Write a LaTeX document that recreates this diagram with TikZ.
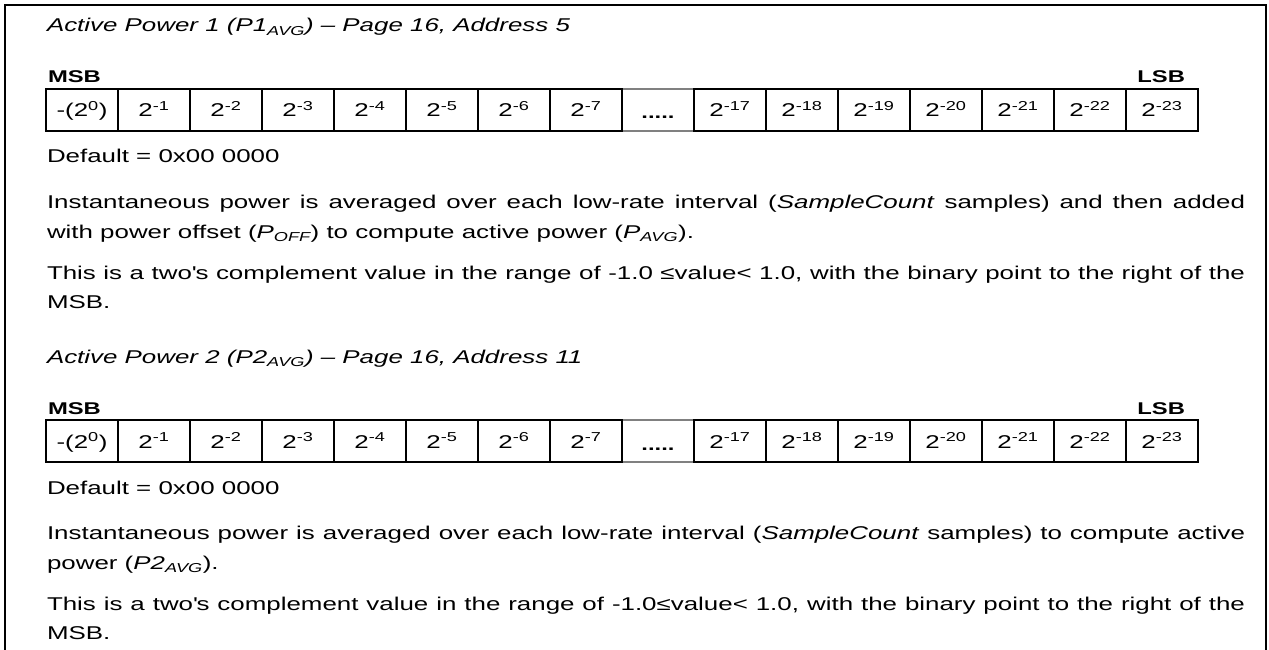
\documentclass[tikz,border=0pt]{standalone}
\usepackage{fontspec}
\setmainfont{Liberation Sans}[FakeStretch=1.40]
\newcommand{\justline}[1]{\makebox[1198pt][s]{#1}}
\begin{document}
\begin{tikzpicture}[x=1pt,y=-1pt,
  body/.style={anchor=base west,inner sep=0pt,outer sep=0pt,font=\fontsize{18.5}{20}\selectfont},
  ttl/.style={anchor=base west,inner sep=0pt,outer sep=0pt,font=\fontsize{18.5}{20}\selectfont\itshape},
  bitlbl/.style={anchor=base west,inner sep=0pt,outer sep=0pt,font=\fontsize{17}{18}\selectfont\bfseries},
  cell/.style={draw=black,line width=1.6pt,minimum width=72pt,minimum height=42pt,inner sep=0pt,outer sep=0pt},
  dotcell/.style={draw=gray,line width=1.6pt,minimum width=72pt,minimum height=42pt,inner sep=0pt,outer sep=0pt},
  celltext/.style={anchor=base,inner sep=0pt,font=\fontsize{18.5}{20}\selectfont},
  frameline/.style={line width=1.8pt}
]
\useasboundingbox (0,0) rectangle (1269,650);
% frame (open at the bottom)
\coordinate (fbl) at (5,650);
\coordinate (ftl) at (5,5);
\coordinate (ftr) at (1266,5);
\coordinate (fbr) at (1266,650);
\draw[frameline] (fbl) -- (ftl) -- (ftr) -- (fbr);

\foreach \blk/\dy in {1/0,2/331}{
  % dots cell first (gray top/bottom)
  \node[dotcell] (c\blk-9) at ({10+72*9},{110+\dy}) {};
  \foreach \i/\t in {1/{-(2\textsuperscript{0})},2/{2\textsuperscript{-1}},3/{2\textsuperscript{-2}},4/{2\textsuperscript{-3}},5/{2\textsuperscript{-4}},6/{2\textsuperscript{-5}},7/{2\textsuperscript{-6}},8/{2\textsuperscript{-7}},10/{2\textsuperscript{-17}},11/{2\textsuperscript{-18}},12/{2\textsuperscript{-19}},13/{2\textsuperscript{-20}},14/{2\textsuperscript{-21}},15/{2\textsuperscript{-22}},16/{2\textsuperscript{-23}}}{
    \node[cell] (c\blk-\i) at ({10+72*\i},{110+\dy}) {};
    \node[celltext] (t\blk-\i) at ({10+72*\i},{117+\dy}) {\t};
  }
  \node[celltext,font=\fontsize{17}{20}\selectfont\bfseries] (t\blk-9) at ({10+72*9},{119+\dy}) {.....};
  \node[bitlbl] (msb\blk) at (48,{83+\dy}) {MSB};
  \node[bitlbl,anchor=base east] (lsb\blk) at (1185,{83+\dy}) {LSB};
  \node[body] (def\blk) at (47,{163+\dy}) {Default = 0x00 0000};
}

\node[ttl] (title1) at (47,32) {Active Power 1 (P1\textsubscript{AVG}) – Page 16, Address 5};
\node[body] (p1a) at (47,208) {\justline{Instantaneous power is averaged over each low-rate interval (\textit{SampleCount} samples) and then added}};
\node[body] (p1b) at (47,238) {with power offset (\textit{P\textsubscript{OFF}}) to compute active power (\textit{P\textsubscript{AVG}}).};
\node[body] (p1c) at (47,279) {\justline{This is a two\textquotesingle s complement value in the range of -1.0 ≤value< 1.0, with the binary point to the right of the}};
\node[body] (p1d) at (47,308) {MSB.};

\node[ttl] (title2) at (47,363) {Active Power 2 (P2\textsubscript{AVG}) – Page 16, Address 11};
\node[body] (p2a) at (47,539) {\justline{Instantaneous power is averaged over each low-rate interval (\textit{SampleCount} samples) to compute active}};
\node[body] (p2b) at (47,569) {power (\textit{P2\textsubscript{AVG}}).};
\node[body] (p2c) at (47,610) {\justline{This is a two\textquotesingle s complement value in the range of -1.0≤value< 1.0, with the binary point to the right of the}};
\node[body] (p2d) at (47,639) {MSB.};
\end{tikzpicture}
\end{document}
